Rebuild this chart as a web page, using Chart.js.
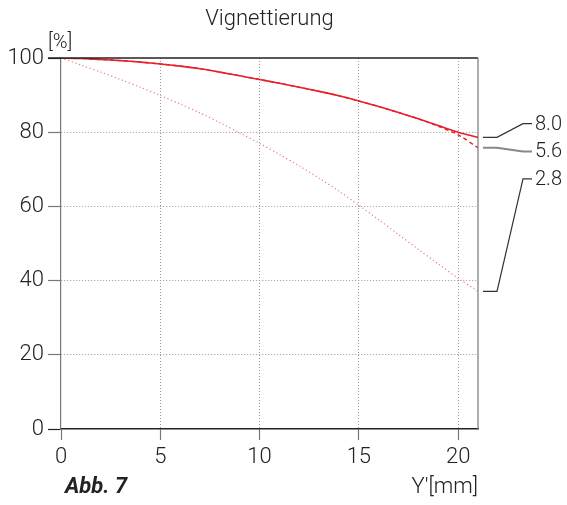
<!DOCTYPE html>
<html>
<head>
<meta charset="utf-8">
<script src="https://cdn.jsdelivr.net/npm/chart.js@4.4.1/dist/chart.umd.min.js"></script>
<style>
  html, body { margin: 0; padding: 0; background: #fff; }
  #wrap { width: 567px; height: 505px; }
</style>
</head>
<body>
<div id="wrap"><canvas id="myChart" width="567" height="505"></canvas></div>
<script>
// image height Y' in mm
const positions = [0, 1, 2, 3, 4, 5, 6, 7, 8, 9, 10, 11, 12, 13, 14, 15, 16, 17, 18, 19, 20, 21];
// relative illumination [%] per f-stop
const vig80 = [100, 99.9, 99.6, 99.3, 98.9, 98.4, 97.8, 97.1, 96.2, 95.2, 94.2, 93.2, 92.1, 91.0, 89.8, 88.4, 86.9, 85.3, 83.6, 81.8, 80.0, 78.6];
const vig56 = [100, 99.9, 99.6, 99.3, 98.9, 98.4, 97.8, 97.1, 96.2, 95.2, 94.2, 93.2, 92.1, 91.0, 89.8, 88.4, 86.9, 85.3, 83.6, 81.6, 79.3, 75.8];
const vig28 = [100, 98.1, 96.2, 94.2, 92.1, 89.9, 87.6, 85.2, 82.6, 79.8, 77.0, 74.0, 70.9, 67.6, 64.1, 60.3, 56.4, 52.4, 48.4, 44.5, 40.6, 37.1];
const stopLabels = ['8.0', '5.6', '2.8'];
const xTicks = [0, 5, 10, 15, 20];
const yTicks = [0, 20, 40, 60, 80, 100];

const FONT = 'Roboto, "DejaVu Sans", sans-serif';
const RED = '#e8202a';

const toPoints = vals => vals.map((v, i) => ({x: positions[i], y: v}));

// frame, leader lines and loose captions
const extras = {
    id: 'extras',
    afterDraw(chart, args, opts) {
        const {ctx, chartArea: a, scales: {y}} = chart;
        ctx.save();
        ctx.lineCap = 'butt';
        // top frame line (black), right frame line (gray)
        ctx.strokeStyle = '#222';
        ctx.lineWidth = 1.5;
        ctx.beginPath();
        ctx.moveTo(a.left - 13, a.top);
        ctx.lineTo(a.right, a.top);
        ctx.stroke();
        ctx.strokeStyle = '#777';
        ctx.lineWidth = 1.2;
        ctx.beginPath();
        ctx.moveTo(a.right, a.top);
        ctx.lineTo(a.right, a.bottom);
        ctx.stroke();

        // leader lines to f-stop labels
        ctx.font = '300 20px ' + FONT;
        ctx.textBaseline = 'middle';
        ctx.textAlign = 'left';
        chart.data.datasets.forEach((ds, i) => {
            const endY = y.getPixelForValue(ds.data[ds.data.length - 1].y);
            const labY = y.getPixelForValue(opts.labelAt[i]);
            ctx.strokeStyle = opts.leaderColors[i];
            ctx.lineWidth = opts.leaderWidths[i];
            ctx.beginPath();
            ctx.moveTo(a.right + 5, endY);
            ctx.lineTo(a.right + 19, endY);
            ctx.lineTo(a.right + 45, labY);
            ctx.lineTo(a.right + 54, labY);
            ctx.stroke();
            ctx.fillStyle = '#222';
            ctx.fillText(ds.label, a.right + 57, labY + 1);
        });

        // unit on y axis
        ctx.font = '300 20px ' + FONT;
        ctx.fillText('[%]', a.left - 13, a.top - 15);

        // figure caption and x unit
        ctx.font = 'italic bold 22px ' + FONT;
        ctx.fillText('Abb. 7', a.left + 4, a.bottom + 58);
        ctx.font = '300 22px ' + FONT;
        ctx.textAlign = 'right';
        ctx.fillText("Y'[mm]", a.right, a.bottom + 58);
        ctx.restore();
    }
};

new Chart(document.getElementById('myChart'), {
    type: 'line',
    data: {
        datasets: [
            {
                label: stopLabels[0],
                data: toPoints(vig80),
                borderColor: RED,
                borderWidth: 1.6,
                pointRadius: 0,
                tension: 0.3
            },
            {
                label: stopLabels[1],
                data: toPoints(vig56),
                borderColor: RED,
                borderWidth: 1.4,
                borderDash: [4, 3],
                pointRadius: 0,
                tension: 0.3
            },
            {
                label: stopLabels[2],
                data: toPoints(vig28),
                borderColor: '#f07a80',
                borderWidth: 1.2,
                borderDash: [1.2, 2.6],
                pointRadius: 0,
                tension: 0.3
            }
        ]
    },
    options: {
        responsive: false,
        animation: false,
        devicePixelRatio: 1,
        layout: {padding: {left: 0, right: 89, top: 0, bottom: 0}},
        plugins: {
            legend: {display: false},
            tooltip: {enabled: false},
            title: {
                display: true,
                text: 'Vignettierung',
                fullSize: false,
                color: '#222',
                font: {family: FONT, size: 22, weight: '300'},
                padding: {top: 6, bottom: 25.6}
            },
            extras: {
                labelAt: [82.3, 74.8, 67.4],
                leaderColors: ['#333', '#888', '#333'],
                leaderWidths: [1.2, 2, 1.2]
            }
        },
        scales: {
            x: {
                type: 'linear',
                min: 0,
                max: 21,
                afterBuildTicks: s => { s.ticks = xTicks.map(v => ({value: v})); },
                afterFit: s => { s.height = 76; },
                ticks: {
                    color: '#222',
                    padding: 4,
                    maxRotation: 0,
                    font: {family: FONT, size: 22, weight: '300'}
                },
                grid: {
                    color: c => (c.tick && c.tick.value === 0) ? 'rgba(0,0,0,0)' : '#999',
                    lineWidth: 1,
                    tickLength: 11,
                    tickColor: '#777',
                    tickWidth: 1.2,
                    tickBorderDash: []
                },
                border: {display: true, color: '#222', width: 1.5, dash: [1, 2]}
            },
            y: {
                min: 0,
                max: 100,
                afterBuildTicks: s => { s.ticks = yTicks.map(v => ({value: v})); },
                afterFit: s => { s.width = 61; },
                ticks: {
                    color: '#222',
                    padding: 4,
                    font: {family: FONT, size: 22, weight: '300'}
                },
                grid: {
                    color: c => (c.tick && (c.tick.value === 0 || c.tick.value === 100)) ? 'rgba(0,0,0,0)' : '#999',
                    lineWidth: 1,
                    tickLength: 13,
                    tickColor: c => (c.tick && (c.tick.value === 0 || c.tick.value === 100)) ? '#222' : '#777',
                    tickWidth: 1.2,
                    tickBorderDash: []
                },
                border: {display: true, color: '#777', width: 1.2, dash: [1, 2]}
            }
        }
    },
    plugins: [extras]
});
</script>
</body>
</html>
